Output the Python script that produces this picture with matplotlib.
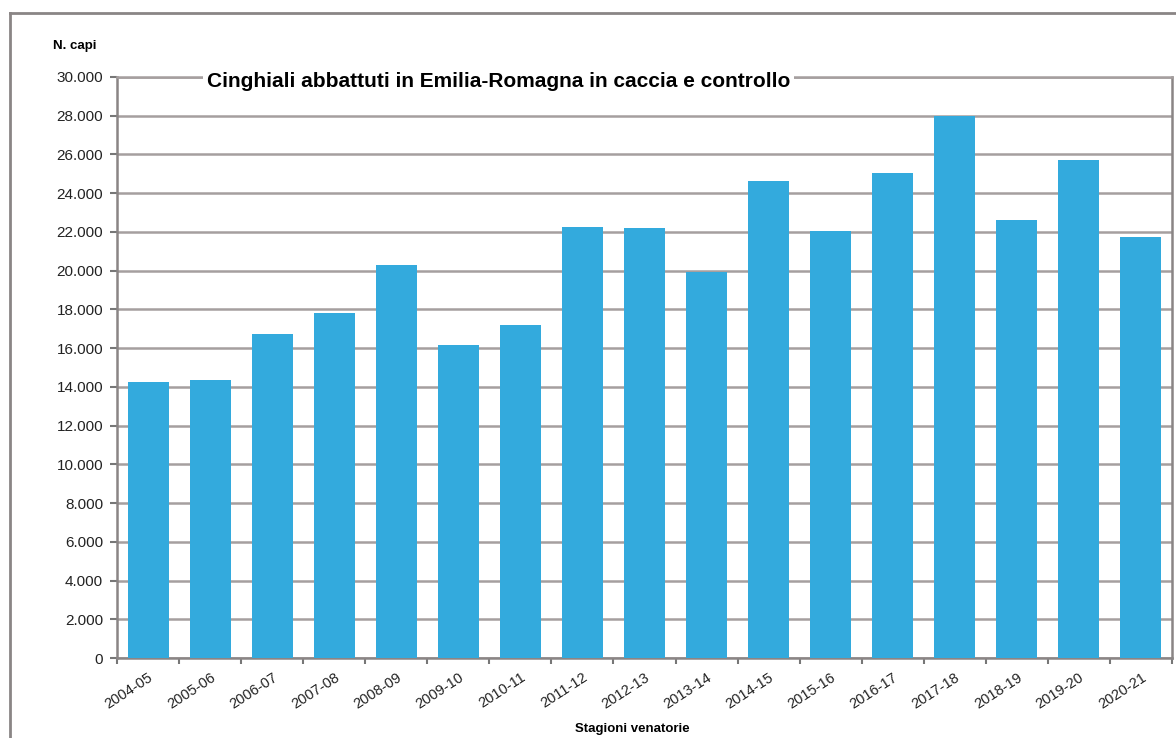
import matplotlib
matplotlib.use('Agg')
import matplotlib.pyplot as plt
from matplotlib.lines import Line2D
from matplotlib.ticker import FuncFormatter, MultipleLocator, FixedLocator
import numpy as np

plt.rcParams['font.family'] = ['Liberation Sans', 'DejaVu Sans']

# stagioni venatorie e capi abbattuti
stagioni = ['2004-05', '2005-06', '2006-07', '2007-08', '2008-09', '2009-10',
            '2010-11', '2011-12', '2012-13', '2013-14', '2014-15', '2015-16',
            '2016-17', '2017-18', '2018-19', '2019-20', '2020-21']
capi = [14250, 14350, 16730, 17810, 20290, 16160, 17190, 22260, 22200,
        19930, 24630, 22050, 25040, 27990, 22620, 25710, 21740]

fig = plt.figure(figsize=(11.76, 7.38), dpi=100)
ax = fig.add_axes([0.0995, 0.1084, 0.8971, 0.7873])

x = np.arange(len(stagioni))
ax.bar(x, capi, width=0.66, color='#33aadd', zorder=3)

ax.set_xlim(-0.5, len(stagioni) - 0.5)
ax.set_ylim(0, 30000)
ax.yaxis.set_major_locator(MultipleLocator(2000))
ax.yaxis.set_major_formatter(FuncFormatter(lambda v, p: f'{int(v):,}'.replace(',', '.')))
ax.grid(axis='y', color='#a59f9f', linewidth=1.8, zorder=0)

ax.set_xticks(x)
ax.set_xticklabels(stagioni, rotation=33, ha='right', rotation_mode='anchor',
                   fontsize=10.5, color='#222222')
ax.tick_params(axis='x', length=0, pad=9)
ax.xaxis.set_minor_locator(FixedLocator(np.arange(-0.5, len(stagioni), 1)))
ax.tick_params(axis='x', which='minor', length=4, color='#777777', width=1.5)
ax.tick_params(axis='y', length=5, color='#777777', width=1.5, labelsize=11,
               pad=5, labelcolor='#222222')

for side in ['left', 'bottom', 'right', 'top']:
    ax.spines[side].set_color('#8a8585')
    ax.spines[side].set_linewidth(1.8)
ax.spines['top'].set_color('#a59f9f')

ax.text(0.085, 0.993, 'Cinghiali abbattuti in Emilia-Romagna in caccia e controllo',
        transform=ax.transAxes, fontsize=15, fontweight='bold', va='center',
        ha='left', zorder=5,
        bbox=dict(facecolor='white', edgecolor='none', pad=3))

fig.text(0.045, 0.938, 'N. capi', fontsize=9.5, fontweight='bold', va='center')
fig.text(0.538, 0.012, 'Stagioni venatorie', fontsize=9.5, fontweight='bold',
         ha='center', va='center')

# cornice esterna
fig.add_artist(Line2D([10 / 1176, 1.0], [1 - 13 / 738, 1 - 13 / 738],
                      transform=fig.transFigure, color='#8a8585', linewidth=2))
fig.add_artist(Line2D([10 / 1176, 10 / 1176], [0.0, 1 - 13 / 738],
                      transform=fig.transFigure, color='#8a8585', linewidth=2))

fig.savefig('out.png', dpi=100)
